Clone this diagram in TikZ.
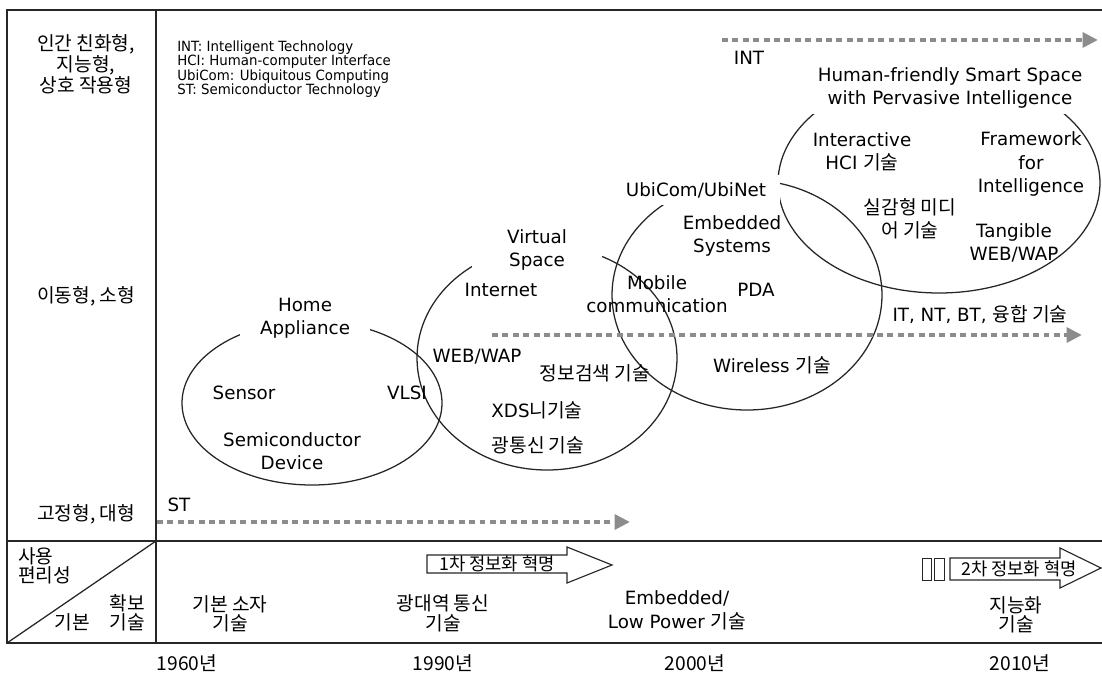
\documentclass[tikz,border=0pt]{standalone}
\usepackage{fontspec}
\setmainfont{DejaVu Sans}
\newfontfamily\kr{Noto Sans CJK KR}[Scale=1.05]
\newfontfamily\legendfont{DejaVu Sans}[FakeStretch=0.95]
\usepackage{tikz}
\usetikzlibrary{arrows.meta,positioning,calc}

\begin{document}
\begin{tikzpicture}[x=0.025cm,y=-0.025cm,
  lbl/.style={font=\fontsize{13}{16.4}\selectfont,align=center,inner sep=0pt},
  krlbl/.style={font=\kr\fontsize{13}{13.8}\selectfont,align=center,inner sep=0pt},
  ttl/.style={lbl,fill=white},
  frame/.style={line width=0.9pt,black!85},
  era/.style={line width=0.9pt,black!85},
  trend/.style={line width=3.2pt,black!45,dash pattern=on 4.2pt off 3.2pt,-{Triangle[length=11pt,width=10.5pt]}},
  revo/.style={draw=black!85,line width=0.8pt}]
\useasboundingbox (0,0) rectangle (1102,675);

% table frame
\draw[frame] (1102,10) -- (7,10) -- (7,643) -- (1102,643);
\draw[frame] (156,10) -- (156,643);
\draw[frame] (7,541) -- (1102,541);
\draw[frame] (7,643) -- (156,541);

% row heads
\node[krlbl] (humanrow) at (86,64) {인간 친화형,\\지능형,\\상호 작용형};
\node[krlbl] (mobrow) at (86,296) {이동형, 소형};
\node[krlbl] (fixrow) at (86,514) {고정형, 대형};
\node[krlbl,align=left,anchor=west,font=\kr\fontsize{13}{11.5}\selectfont] (usab) at (18,566) {사용\\편리성};
\node[krlbl,align=right,anchor=east,font=\kr\fontsize{13}{12}\selectfont] (secure) at (145,613) {확보\\기본\hspace{1em}기술};

% legend
\node[anchor=west,align=left,inner sep=0pt,font=\legendfont\fontsize{10}{10.2}\selectfont] (legend) at (177,69) {%
 INT: Intelligent Technology\\
 HCI: Human-computer Interface\\
 UbiCom: Ubiquitous Computing\\
 ST: Semiconductor Technology};

% technology groups
\draw[era] (312,403) ellipse [x radius=130,y radius=82];
\draw[era] (547,358) ellipse [x radius=130,y radius=112];
\draw[era] (747,295) ellipse [x radius=135,y radius=115];
\draw[era] (939,183) ellipse [x radius=161,y radius=110];

\node[ttl,minimum width=3.25cm,minimum height=1.43cm] (home) at (305,318) {Home\\Appliance};
\node[ttl,minimum width=3.23cm,minimum height=1.5cm] (virt) at (537,250) {Virtual\\Space};
\node[ttl,minimum width=4.2cm,minimum height=0.75cm] (ubi) at (696,190) {UbiCom/UbiNet};
\node[ttl,minimum width=7.6cm,minimum height=1.3cm] (hfss) at (950,88) {Human-friendly Smart Space\\with Pervasive Intelligence};

\node[lbl] (sensor) at (244,393) {Sensor};
\node[lbl] (vlsi) at (407,393) {VLSI};
\node[lbl] (semi) at (292,451) {Semiconductor\\Device};

\node[lbl] (inet) at (501,290) {Internet};
\node[lbl] (webwap) at (477,357) {WEB/WAP};
\node[krlbl] (search) at (595,373) {정보검색 기술};
\node[lbl] (xds) at (537,410) {XDS{\kr 니기술}};
\node[krlbl] (optic) at (538,445) {광통신 기술};

\node[lbl] (embsys) at (732,236) {Embedded\\Systems};
\node[lbl] (mobile) at (657,294) {Mobile\\communication};
\node[lbl] (pda) at (756,290) {PDA};
\node[lbl] (wless) at (772,365) {Wireless {\kr 기술}};

\node[lbl] (hci) at (862,152) {Interactive\\HCI {\kr 기술}};
\node[lbl] (fwk) at (1031,164) {Framework\\for\\Intelligence};
\node[krlbl,font=\kr\fontsize{13}{16.4}\selectfont] (media) at (910,219) {실감형 미디\\어 기술};
\node[lbl] (tang) at (1014,243) {Tangible\\WEB/WAP};

% trends
\foreach \nm/\xa/\xb/\yy in {st/157/630/522, conv/492/1082/335, int/722/1098/40}{
  \coordinate (\nm-s) at (\xa,\yy);
  \coordinate (\nm-e) at (\xb,\yy);
  \draw[trend] (\nm-s) -- (\nm-e);
}
\node[lbl] (stlbl) at (179,505) {ST};
\node[lbl] (convlbl) at (980,315) {IT, NT, BT, {\kr 융합 기술}};
\node[lbl] (intlbl) at (749,58) {INT};

% revolutions
\draw[revo] (427,555) -- (567,555) -- (567,547) -- (612,565) -- (567,583) -- (567,573) -- (427,573) -- cycle;
\node[krlbl,font=\kr\fontsize{12}{12}\selectfont] (rev1) at (497,564) {1차 정보화 혁명};
\draw[revo] (950,558) -- (1060,558) -- (1060,548) -- (1101,568) -- (1060,588) -- (1060,580) -- (950,580) -- cycle;
\draw[revo,line width=0.6pt] (922,558) rectangle (931,580);
\draw[revo,line width=0.6pt] (934,558) rectangle (944,580);
\node[krlbl,font=\kr\fontsize{12}{12}\selectfont] (rev2) at (1019,569) {2차 정보화 혁명};

% basic technologies per era
\node[krlbl] (era1) at (230,614) {기본 소자\\기술};
\node[krlbl,font=\kr\fontsize{13}{14}\selectfont] (era2) at (443,613) {광대역 통신\\기술};
\node[lbl,font=\fontsize{13}{17}\selectfont] (era3) at (677,610) {Embedded/\\Low Power {\kr 기술}};
\node[krlbl] (era4) at (1016,615) {지능화\\기술};

% years
\foreach \nm/\xx in {1960/187, 1990/443, 2000/695, 2010/1020}{
  \node[krlbl] (y\nm) at (\xx,663) {\nm 년};
}
\end{tikzpicture}
\end{document}
